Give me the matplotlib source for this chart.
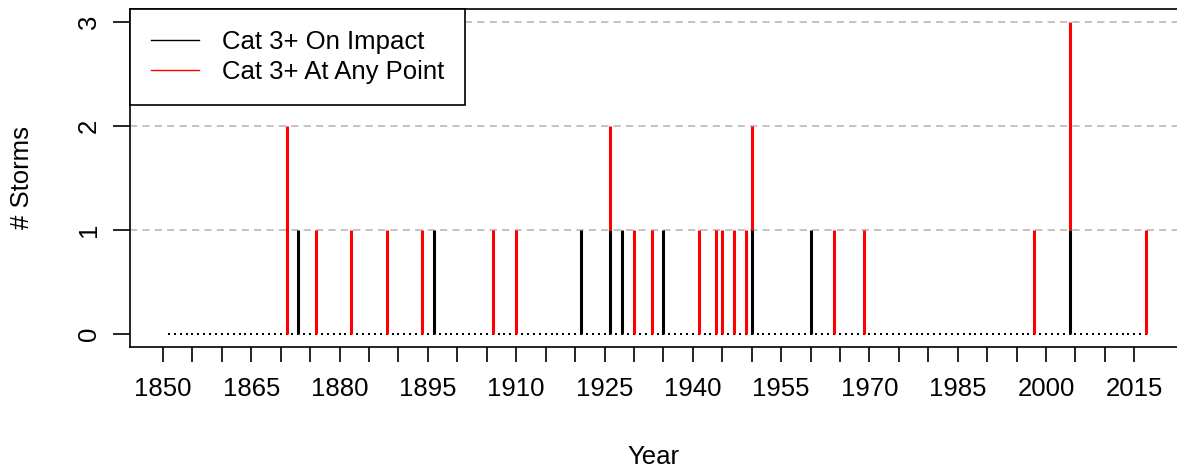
import numpy as np
import matplotlib
matplotlib.use("Agg")
import matplotlib.pyplot as plt
from matplotlib.lines import Line2D

plt.rcParams['font.family'] = ['Liberation Sans', 'DejaVu Sans']

# storm years and counts
storm_years = [1871, 1873, 1876, 1882, 1888, 1894, 1896, 1906, 1910, 1921,
               1926, 1928, 1930, 1933, 1935, 1941, 1944, 1945, 1947, 1949,
               1950, 1960, 1964, 1969, 1998, 2004, 2017]
on_impact = [0, 1, 0, 0, 0, 0, 1, 0, 0, 1,
             1, 1, 0, 0, 1, 0, 0, 0, 0, 0,
             1, 1, 0, 0, 0, 1, 0]
any_point = [2, 1, 1, 1, 1, 1, 1, 1, 1, 1,
             2, 1, 1, 1, 1, 1, 1, 1, 1, 1,
             2, 1, 1, 1, 1, 3, 1]
first_year, last_year = 1851, 2017

tick_years = list(range(1850, 2016, 5))
tick_labels = [str(y) if (y - 1850) % 15 == 0 else '' for y in tick_years]
y_ticks = [0, 1, 2, 3]

FS = 18.5

W, H = 1177, 469
fig = plt.figure(figsize=(W / 100, H / 100), dpi=100)
ax = fig.add_axes([130 / W, (H - 346.5) / H, (1185 - 130) / W, (346.5 - 9) / H])

# dashed grid
for y in y_ticks[1:]:
    ax.axhline(y, color='#c4c4c4', lw=1.44, dashes=(3.6, 2.6), zorder=1)

# zero-count dots for every year
all_years = np.arange(first_year, last_year + 1)
ax.plot(all_years, np.zeros(len(all_years)), linestyle='none', marker='s',
        ms=2.0, mew=0, color='black', zorder=2)

# bars: black up to on-impact count, red from there to the total
ax.vlines(storm_years, on_impact, any_point, color='#ff0000', lw=2.2, zorder=3)
ax.vlines(storm_years, 0, on_impact, color='black', lw=2.2, zorder=3)

ax.set_xlim(1844.4, 2023.6)
ax.set_ylim(-0.12, 3.12)
ax.set_xticks(tick_years)
ax.set_xticklabels(tick_labels, fontsize=FS)
ax.set_yticks(y_ticks)
ax.set_yticklabels([str(v) for v in y_ticks], fontsize=FS, rotation=90, va='center')
ax.tick_params(axis='x', length=11, width=1.2, pad=11)
ax.tick_params(axis='y', length=12, width=1.2, pad=9)
for s in ax.spines.values():
    s.set_linewidth(1.2)

fig.text(22 / W, 1 - 177 / H, '# Storms', rotation=90, ha='center', va='center', fontsize=FS)
fig.text((130 + 1177) / 2 / W, 1 - 457 / H, 'Year', ha='center', va='center', fontsize=FS)

handles = [Line2D([], [], color='black', lw=1),
           Line2D([], [], color='#ff0000', lw=1)]
leg = ax.legend(handles, ['Cat 3+ On Impact', 'Cat 3+ At Any Point'],
                loc='upper left', bbox_to_anchor=(0, 1), borderaxespad=0,
                fontsize=FS, fancybox=False, framealpha=1, edgecolor='black',
                borderpad=0.8, labelspacing=0.25, handlelength=1.9,
                handletextpad=0.9)
leg.get_frame().set_linewidth(1.2)
leg.set_zorder(5)

fig.savefig('out.png', dpi=100)
